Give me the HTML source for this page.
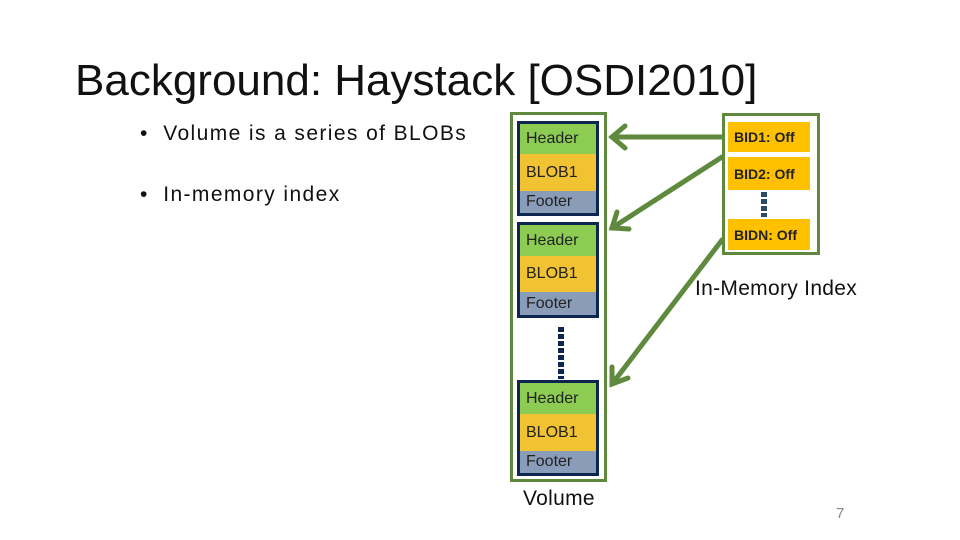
<!DOCTYPE html>
<html><head><style>
body{margin:0;width:960px;height:540px;background:#fff;position:relative;overflow:hidden;font-family:"Liberation Sans",sans-serif}
.a{position:absolute}
.t{font-size:16px;color:#222;padding-left:6px;box-sizing:border-box;display:flex;align-items:center;overflow:hidden}
.blk{position:absolute;left:517px;width:82px;border:3px solid #0d2650;box-sizing:border-box}
.h{background:#8ccc52}.b{background:#f1c232}.f{background:#8a9db8}
.bid{position:absolute;left:728px;width:82px;background:#ffc000;font-size:14px;font-weight:bold;color:#222;padding-left:6px;box-sizing:border-box;display:flex;align-items:center;font-family:"Liberation Sans",sans-serif}
</style></head><body>
<div class="a" style="left:75px;top:56px;font-size:44px;color:#111">Background: Haystack [OSDI2010]</div>
<div class="a" style="left:140px;top:122px;font-size:21px;color:#111;letter-spacing:1.4px">•&nbsp;&nbsp;Volume is a series of BLOBs</div>
<div class="a" style="left:140px;top:183px;font-size:21px;color:#111;letter-spacing:1.4px">•&nbsp;&nbsp;In-memory index</div>

<div class="a" style="left:510px;top:112px;width:97px;height:370px;border:3px solid #5f8a3e;box-sizing:border-box"></div>
<div class="blk" style="top:121px;height:95px"><div class="t h" style="height:30px">Header</div><div class="t b" style="height:37px">BLOB1</div><div class="t f" style="height:22px">Footer</div></div>
<div class="blk" style="top:222px;height:96px"><div class="t h" style="height:31px">Header</div><div class="t b" style="height:36px">BLOB1</div><div class="t f" style="height:23px">Footer</div></div>
<div class="blk" style="top:380px;height:96px"><div class="t h" style="height:31px">Header</div><div class="t b" style="height:37px">BLOB1</div><div class="t f" style="height:22px">Footer</div></div>
<div class="a" style="left:558px;top:327px;width:6px;height:52px;background:repeating-linear-gradient(#0d2650 0 5px,transparent 5px 7px)"></div>

<div class="a" style="left:722px;top:113px;width:98px;height:142px;border:3px solid #5f8a3e;box-sizing:border-box"></div>
<div class="bid" style="top:122px;height:30px">BID1: Off</div>
<div class="bid" style="top:157px;height:33px">BID2: Off</div>
<div class="bid" style="top:219px;height:31px">BIDN: Off</div>
<div class="a" style="left:761px;top:192px;width:6px;height:25px;background:repeating-linear-gradient(#2a4a6a 0 5px,transparent 5px 7px)"></div>

<svg class="a" style="left:0;top:0" width="960" height="540">
<g stroke="#5f8a3e" stroke-width="5" fill="none" stroke-linecap="round">
<line x1="722" y1="137" x2="612" y2="137"/><polyline points="625,126 612,137 625,148"/>
<line x1="722" y1="157" x2="612" y2="228"/><polyline points="617,212 612,228 629,229"/>
<line x1="722" y1="240" x2="612" y2="384"/><polyline points="612,367 612,384 628,378"/>
</g></svg>

<div class="a" style="left:695px;top:277px;font-size:21px;color:#111;letter-spacing:0.3px">In-Memory Index</div>
<div class="a" style="left:523px;top:487px;font-size:21px;color:#111;letter-spacing:0.3px">Volume</div>
<div class="a" style="left:836px;top:505px;font-size:15px;color:#888">7</div>
</body></html>
